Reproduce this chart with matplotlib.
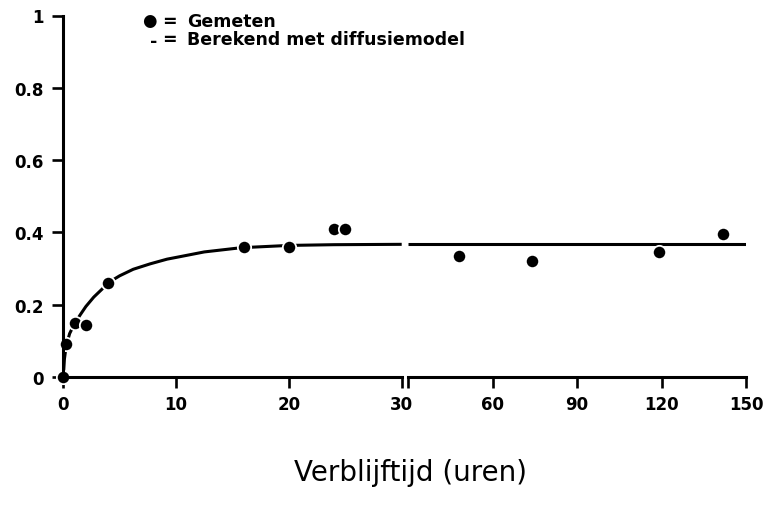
import numpy as np
import matplotlib
matplotlib.use("Agg")
import matplotlib.pyplot as plt

# Measured data (Gemeten)
t_meas = np.array([0, 0.25, 1, 2, 4, 16, 20, 24, 25, 48, 74, 119, 142])
y_meas = np.array([0, 0.09, 0.15, 0.145, 0.26, 0.36, 0.36, 0.41, 0.41, 0.335, 0.32, 0.345, 0.395])

# Diffusion model curve (Berekend met diffusiemodel)
t_model = np.array([0, 0.1, 0.25, 0.56, 1.0, 1.5, 2.0, 2.7, 3.5, 4.2, 5.0, 6.2, 7.7,
                    9.2, 10.2, 12.5, 15.3, 16, 20, 24, 30, 60, 90, 120, 150])
y_model = np.array([0, 0.05, 0.085, 0.12, 0.148, 0.172, 0.195, 0.221, 0.245, 0.265, 0.280,
                    0.298, 0.313, 0.326, 0.332, 0.346, 0.356, 0.358, 0.364, 0.366, 0.367,
                    0.367, 0.367, 0.367, 0.367])

left_ticks = [0, 10, 20, 30]
left_labels = ["0", "10", "20", "30"]
right_ticks = [30, 60, 90, 120, 150]
right_labels = ["", "60", "90", "120", "150"]
y_ticks = [0, 0.2, 0.4, 0.6, 0.8, 1]
y_labels = ["0", "0.2", "0.4", "0.6", "0.8", "1"]

xlabel = "Verblijftijd (uren)"
legend_meas = "Gemeten"
legend_model = "Berekend met diffusiemodel"

W, H = 768, 506
fig = plt.figure(figsize=(W / 100, H / 100), dpi=100)

bottom = 1 - 378 / H
height = 361.5 / H
ax1 = fig.add_axes([63.3 / W, bottom, (401.7 - 63.3) / W, height])
ax2 = fig.add_axes([408.3 / W, bottom, (746 - 408.3) / W, height])

tick_font = dict(family="DejaVu Sans", weight="bold", size=12)
lw_sp = 2.2

for ax in (ax1, ax2):
    ax.set_ylim(0, 1)
    for s in ("top", "right"):
        ax.spines[s].set_visible(False)
    for s in ("left", "bottom"):
        ax.spines[s].set_linewidth(lw_sp)
    ax.tick_params(direction="out", length=8, width=1.9, color="black")
    ax.patch.set_alpha(0)

ax2.spines["left"].set_visible(False)
ax2.set_yticks([])

ms, mew = 9.6, 1.3

# left panel
mL = t_model <= 30
ax1.plot(t_model[mL], y_model[mL], color="black", lw=2.2, solid_capstyle="butt", zorder=2)
pL = t_meas <= 30
ax1.plot(t_meas[pL], y_meas[pL], "o", color="black", ms=ms, mec="white", mew=mew,
         clip_on=False, zorder=2.2)
ax1.set_xlim(0, 30)
ax1.set_xticks(left_ticks)
ax1.set_xticklabels(left_labels, fontdict=tick_font)
ax1.set_yticks(y_ticks)
ax1.set_yticklabels(y_labels, fontdict=tick_font)
ax1.tick_params(axis="x", pad=5)
ax1.tick_params(axis="y", pad=6)

# right panel
mR = t_model >= 30
ax2.plot(t_model[mR], y_model[mR], color="black", lw=2.2, solid_capstyle="butt", zorder=2)
pR = t_meas > 30
ax2.plot(t_meas[pR], y_meas[pR], "o", color="black", ms=ms, mec="white", mew=mew,
         clip_on=False, zorder=2.2)
ax2.set_xlim(30, 150)
ax2.set_xticks(right_ticks)
ax2.set_xticklabels(right_labels, fontdict=tick_font)
ax2.tick_params(axis="x", pad=5)

# x label
fig.text(411 / W, 1 - 473 / H, xlabel, ha="center", va="center",
         family="DejaVu Sans", size=20)

# legend (text block)
lf = dict(family="DejaVu Sans", weight="bold", size=12.5, linespacing=1.0)
top_y = 1 - 13.3 / H
fig.text(149.3 / W, 1 - 20.7 / H, "\u25CF", ha="center", va="center",
         family="DejaVu Sans", size=12)
fig.text(154 / W, 1 - 47 / H, "-", ha="center", va="baseline",
         family="DejaVu Sans", weight="bold", size=12.5)
fig.text(169.5 / W, top_y, "=\n=", ha="center", va="top", **lf)
fig.text(187 / W, top_y, legend_meas + "\n" + legend_model, ha="left", va="top", **lf)

fig.savefig("out.png", dpi=100, facecolor="white")
